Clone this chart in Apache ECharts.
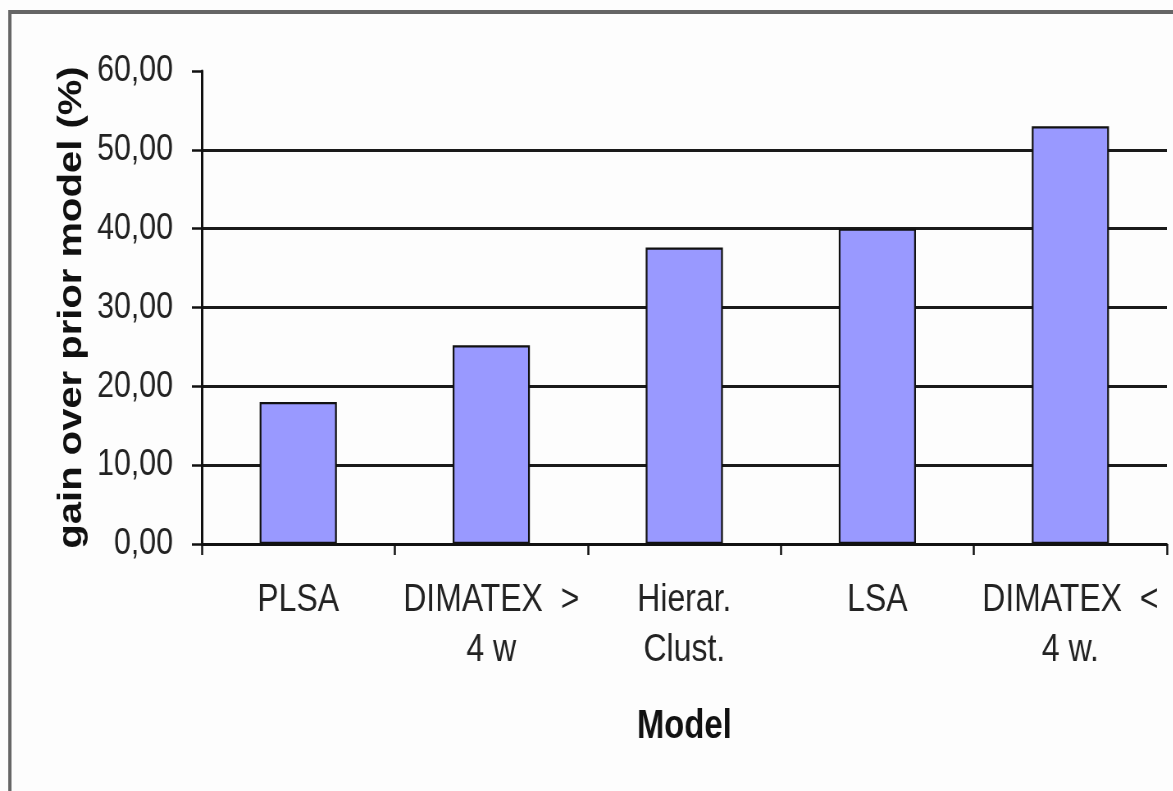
<!DOCTYPE html>
<html>
<head>
<meta charset="utf-8">
<script src="https://cdn.jsdelivr.net/npm/echarts@6/dist/echarts.min.js"></script>
<style>
html,body{margin:0;padding:0;background:#fdfdfd;overflow:hidden;}
#c{width:1430px;height:791px;transform:scaleX(0.82);transform-origin:0 0;}
</style>
</head>
<body>
<div id="c"></div>
<script>
const categories = ['PLSA', 'DIMATEX  >\n4 w', 'Hierar.\nClust.', 'LSA', 'DIMATEX  <\n4 w.'];
const gainValues = [18.0, 25.2, 37.6, 40.0, 53.0];
const yTicks = { min: 0, max: 60, interval: 10 };
const yTitle = 'gain over prior model (%)';
const xTitle = 'Model';

const font = '"Liberation Sans", Arial, sans-serif';
const chart = echarts.init(document.getElementById('c'));
chart.setOption({
  backgroundColor: '#fdfdfd',
  animation: false,
  grid: { left: 246, right: 7, top: 71, bottom: 247, containLabel: false },
  graphic: [
    { type: 'polyline', shape: { points: [[12, 791], [12, 12], [1430, 12]] },
      style: { stroke: '#666', lineWidth: 4, fill: null }, z: 10 }
  ],
  xAxis: {
    type: 'category',
    data: categories,
    name: xTitle,
    nameLocation: 'middle',
    nameGap: 163,
    nameTextStyle: { fontFamily: font, fontWeight: 'bold', fontSize: 40, color: '#111' },
    axisLine: { lineStyle: { color: '#111', width: 2.5 } },
    axisTick: { show: true, length: 11, lineStyle: { color: '#111', width: 2.5 } },
    axisLabel: { margin: 31, fontFamily: font, fontSize: 39, lineHeight: 50, color: '#222', interval: 0 }
  },
  yAxis: {
    type: 'value',
    min: yTicks.min, max: yTicks.max, interval: yTicks.interval,
    name: yTitle,
    nameLocation: 'middle',
    nameGap: 128,
    nameRotate: 90,
    nameTextStyle: { fontFamily: font, fontWeight: 'bold', fontSize: 40, color: '#111' },
    axisLine: { show: true, lineStyle: { color: '#111', width: 3 } },
    axisTick: { show: true, length: 12, lineStyle: { color: '#111', width: 2.5 } },
    axisLabel: { margin: 35, fontFamily: font, fontSize: 37, color: '#222',
      formatter: v => v.toFixed(2).replace('.', ',') },
    splitLine: { show: true, showMaxLine: false, lineStyle: { color: '#1a1a1a', width: 2.8 } }
  },
  series: [{
    type: 'bar',
    data: gainValues,
    barWidth: '40%',
    itemStyle: { color: '#9999ff', borderColor: '#111', borderWidth: 2.2 }
  }]
});
</script>
</body>
</html>
